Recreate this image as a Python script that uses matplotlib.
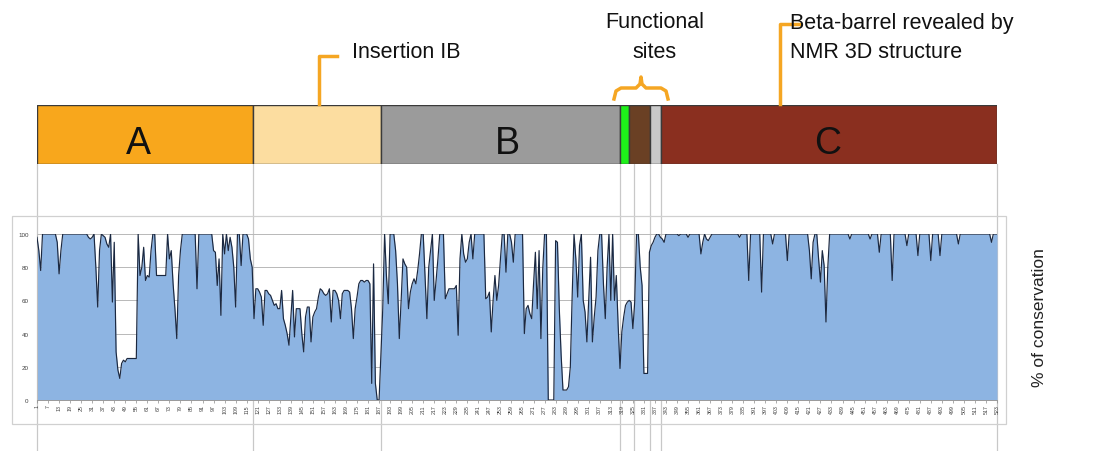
import matplotlib
matplotlib.use("Agg")
import matplotlib.pyplot as plt
from matplotlib.lines import Line2D
from matplotlib.patches import Rectangle
from matplotlib.transforms import blended_transform_factory

plt.rcParams['font.family'] = ['Liberation Sans', 'DejaVu Sans']

# ---------------- data ----------------
conservation = [
    98, 90, 78, 100, 100, 100, 100, 100, 100, 100,      # 1
    100, 95, 76, 90, 100, 100, 100, 100, 100, 100,      # 11
    100, 100, 100, 100, 100, 100, 100, 100, 98, 97,     # 21
    98, 100, 80, 56, 90, 100, 99, 98, 94, 92,           # 31
    100, 59, 95, 29, 18, 13, 22, 24, 23, 25,            # 41
    25, 25, 25, 25, 25, 100, 75, 80, 92, 72,            # 51
    75, 74, 90, 100, 100, 75, 75, 75, 75, 75,           # 61
    75, 100, 85, 90, 70, 55, 37, 75, 90, 100,           # 71
    100, 100, 100, 100, 100, 100, 100, 67, 100, 100,    # 81
    100, 100, 100, 100, 100, 100, 90, 89, 69, 85,       # 91
    51, 100, 88, 100, 90, 98, 92, 80, 56, 100,          # 101
    100, 81, 100, 100, 100, 97, 85, 80, 49, 67,         # 111
    67, 65, 62, 45, 66, 66, 64, 63, 60, 57,             # 121
    58, 55, 55, 66, 49, 45, 40, 33, 50, 66,             # 131
    38, 55, 55, 55, 40, 29, 50, 56, 56, 35,             # 141
    50, 53, 55, 62, 67, 66, 64, 63, 64, 67,             # 151
    47, 66, 66, 64, 60, 49, 64, 66, 66, 66,             # 161
    65, 55, 37, 55, 62, 70, 72, 72, 71, 72,             # 171
    72, 70, 10, 82, 10, 0, 0, 27, 55, 100,              # 181
    75, 58, 100, 100, 100, 90, 70, 37, 60, 85,          # 191
    82, 80, 55, 65, 70, 73, 70, 78, 88, 100,            # 201
    100, 75, 49, 80, 90, 100, 60, 72, 85, 100,          # 211
    100, 100, 61, 64, 67, 67, 67, 67, 69, 39,           # 221
    85, 100, 88, 83, 85, 95, 100, 85, 100, 100,         # 231
    100, 100, 100, 100, 61, 62, 65, 41, 60, 75,         # 241
    60, 69, 85, 100, 100, 77, 100, 100, 95, 83,         # 251
    100, 100, 100, 100, 100, 40, 55, 57, 52, 49,        # 261
    70, 89, 55, 90, 37, 79, 100, 100, 0, 0,             # 271
    0, 0, 96, 95, 55, 27, 6, 6, 6, 8,                   # 281
    20, 63, 100, 85, 62, 93, 100, 60, 53, 35,           # 291
    60, 86, 35, 50, 62, 90, 100, 100, 70, 49,           # 301
    80, 100, 60, 100, 60, 75, 45, 19, 41, 50,           # 311
    57, 59, 60, 59, 43, 59, 100, 100, 80, 69,           # 321
    16, 16, 16, 89, 93, 95, 98, 100, 100, 98,           # 331
    97, 95, 100, 100, 100, 100, 100, 100, 100, 99,      # 341
    100, 100, 100, 100, 98, 100, 100, 100, 100, 100,    # 351
    100, 88, 95, 100, 97, 96, 98, 100, 100, 100,        # 361
    100, 100, 100, 100, 100, 100, 100, 100, 100, 100,   # 371
    100, 100, 98, 100, 100, 100, 100, 72, 100, 100,     # 381
    100, 100, 100, 100, 65, 100, 100, 100, 100, 100,    # 391
    94, 100, 100, 100, 100, 100, 100, 100, 84, 100,     # 401
    100, 100, 100, 100, 100, 100, 100, 100, 100, 100,   # 411
    90, 73, 95, 100, 100, 85, 71, 90, 81, 47,           # 421
    80, 100, 100, 100, 100, 100, 100, 100, 100, 100,    # 431
    100, 100, 97, 100, 100, 100, 100, 100, 100, 100,    # 441
    100, 100, 100, 97, 100, 100, 100, 100, 89, 100,     # 451
    100, 100, 100, 100, 100, 72, 100, 100, 100, 100,    # 461
    100, 100, 100, 93, 100, 100, 100, 100, 100, 87,     # 471
    100, 100, 100, 100, 100, 100, 84, 100, 100, 100,    # 481
    100, 87, 100, 100, 100, 100, 100, 100, 100, 100,    # 491
    100, 94, 100, 100, 100, 100, 100, 100, 100, 100,    # 501
    100, 100, 100, 100, 100, 100, 100, 100, 100, 95,    # 511
    100, 100, 100,                                      # 521
]
residues = list(range(1, len(conservation) + 1))

domain_starts = [1, 118.5, 188, 318, 323, 334.5, 340.5]
domain_ends = [118.5, 188, 318, 323, 334.5, 340.5, 523]
domain_colors = ["#F8A71C", "#FCDDA0", "#9B9B9B", "#1EF01A", "#6A4024", "#C9C9C9", "#8A2F1F"]
label_positions = [56, 257, 431]
label_texts = ["A", "B", "C"]

guide_lines = [1, 118.5, 188, 318, 325.5, 334.5, 340.5, 523]

xtick_labels = list(range(1, 524, 6))
ytick_values = [0, 20, 40, 60, 80, 100]

# ---------------- figure ----------------
W, H = 1094, 452
fig = plt.figure(figsize=(W / 100, H / 100), dpi=100)
fig.patch.set_facecolor("white")


def fx(x):
    return x / W


def fy(y):
    return 1 - y / H


# Domain bar axes
ax_bar = fig.add_axes([fx(37), fy(165), (997 - 37) / W, (165 - 106) / H])
ax_bar.set_xlim(1, 523)
ax_bar.set_ylim(0, 1)
ax_bar.axis("off")
for s, e, c in zip(domain_starts, domain_ends, domain_colors):
    ax_bar.barh(0.5, e - s, left=s, height=1, color=c, edgecolor="#3A3A3A",
                linewidth=1.0, align="center")
for pos, t in zip(label_positions, label_texts):
    ax_bar.text(pos, 0.35, t, ha="center", va="center", fontsize=27, color="#111111")

# guide lines from bar down through chart
trans = blended_transform_factory(ax_bar.transData, fig.transFigure)
for g in guide_lines:
    ln = Line2D([g, g], [0, fy(165)], transform=trans, color="#C8C8C8",
                linewidth=0.9, clip_on=False, zorder=0)
    ax_bar.add_line(ln)

# Outer chart border
fig.patches.append(Rectangle((fx(12), fy(425)), (1006 - 12) / W, (425 - 217) / H,
                             transform=fig.transFigure, fill=False,
                             edgecolor="#D0D0D0", linewidth=0.9, zorder=0))

# Conservation area chart
ax = fig.add_axes([fx(37), fy(401), (997 - 37) / W, (401 - 235) / H])
ax.set_facecolor("none")
ax.set_xlim(1, 523)
ax.set_ylim(0, 100)
ax.set_axisbelow(True)
ax.yaxis.grid(True, color="#B8B8B8", linewidth=0.7)
ax.fill_between(residues, conservation, 0, color="#8DB4E2", linewidth=0, zorder=2)
ax.plot(residues, conservation, color="#1B2840", linewidth=0.85, zorder=3)
for sp in ["top", "right"]:
    ax.spines[sp].set_visible(False)
ax.spines["left"].set_color("#BFBFBF")
ax.spines["bottom"].set_color("#9A9A9A")
ax.spines["left"].set_linewidth(0.7)
ax.spines["bottom"].set_linewidth(0.7)
ax.set_xticks(xtick_labels)
ax.set_xticklabels([str(v) for v in xtick_labels], rotation=90, fontsize=3.8,
                   color="#404040")
ax.set_yticks(ytick_values)
ax.set_yticklabels([str(v) for v in ytick_values], fontsize=4.5, color="#404040")
ax.tick_params(axis="x", length=2, width=0.5, color="#8A8A8A", pad=1)
ax.tick_params(axis="y", length=0, pad=6)

fig.text(fx(1040), fy(318), "% of conservation", rotation=90, ha="center",
         va="center", fontsize=12.5, color="#222222")

# Annotations
orange = "#F5A623"
fig.text(fx(352), fy(52), "Insertion IB", ha="left", va="center", fontsize=15.5,
         color="#111111")
fig.lines.append(Line2D([fx(319), fx(319), fx(337)], [fy(105), fy(57), fy(57)],
                        transform=fig.transFigure, color=orange, linewidth=2.5))

fig.text(fx(655), fy(22), "Functional", ha="center", va="center", fontsize=15.5,
         color="#111111")
fig.text(fx(655), fy(53), "sites", ha="center", va="center", fontsize=15.5,
         color="#111111")
bx = [614, 616, 621, 636, 640, 641, 642, 646, 661, 666, 668]
by = [100, 92, 89, 89, 85, 78, 85, 89, 89, 92, 100]
fig.lines.append(Line2D([fx(v) for v in bx], [fy(v) for v in by],
                        transform=fig.transFigure, color=orange, linewidth=2.5))

fig.text(fx(790), fy(23), "Beta-barrel revealed by", ha="left", va="center",
         fontsize=15.5, color="#111111")
fig.text(fx(790), fy(53), "NMR 3D structure", ha="left", va="center",
         fontsize=15.5, color="#111111")
fig.lines.append(Line2D([fx(780), fx(780), fx(800)], [fy(105), fy(25), fy(25)],
                        transform=fig.transFigure, color=orange, linewidth=2.5))

fig.savefig("out.png", dpi=100, facecolor="white")
